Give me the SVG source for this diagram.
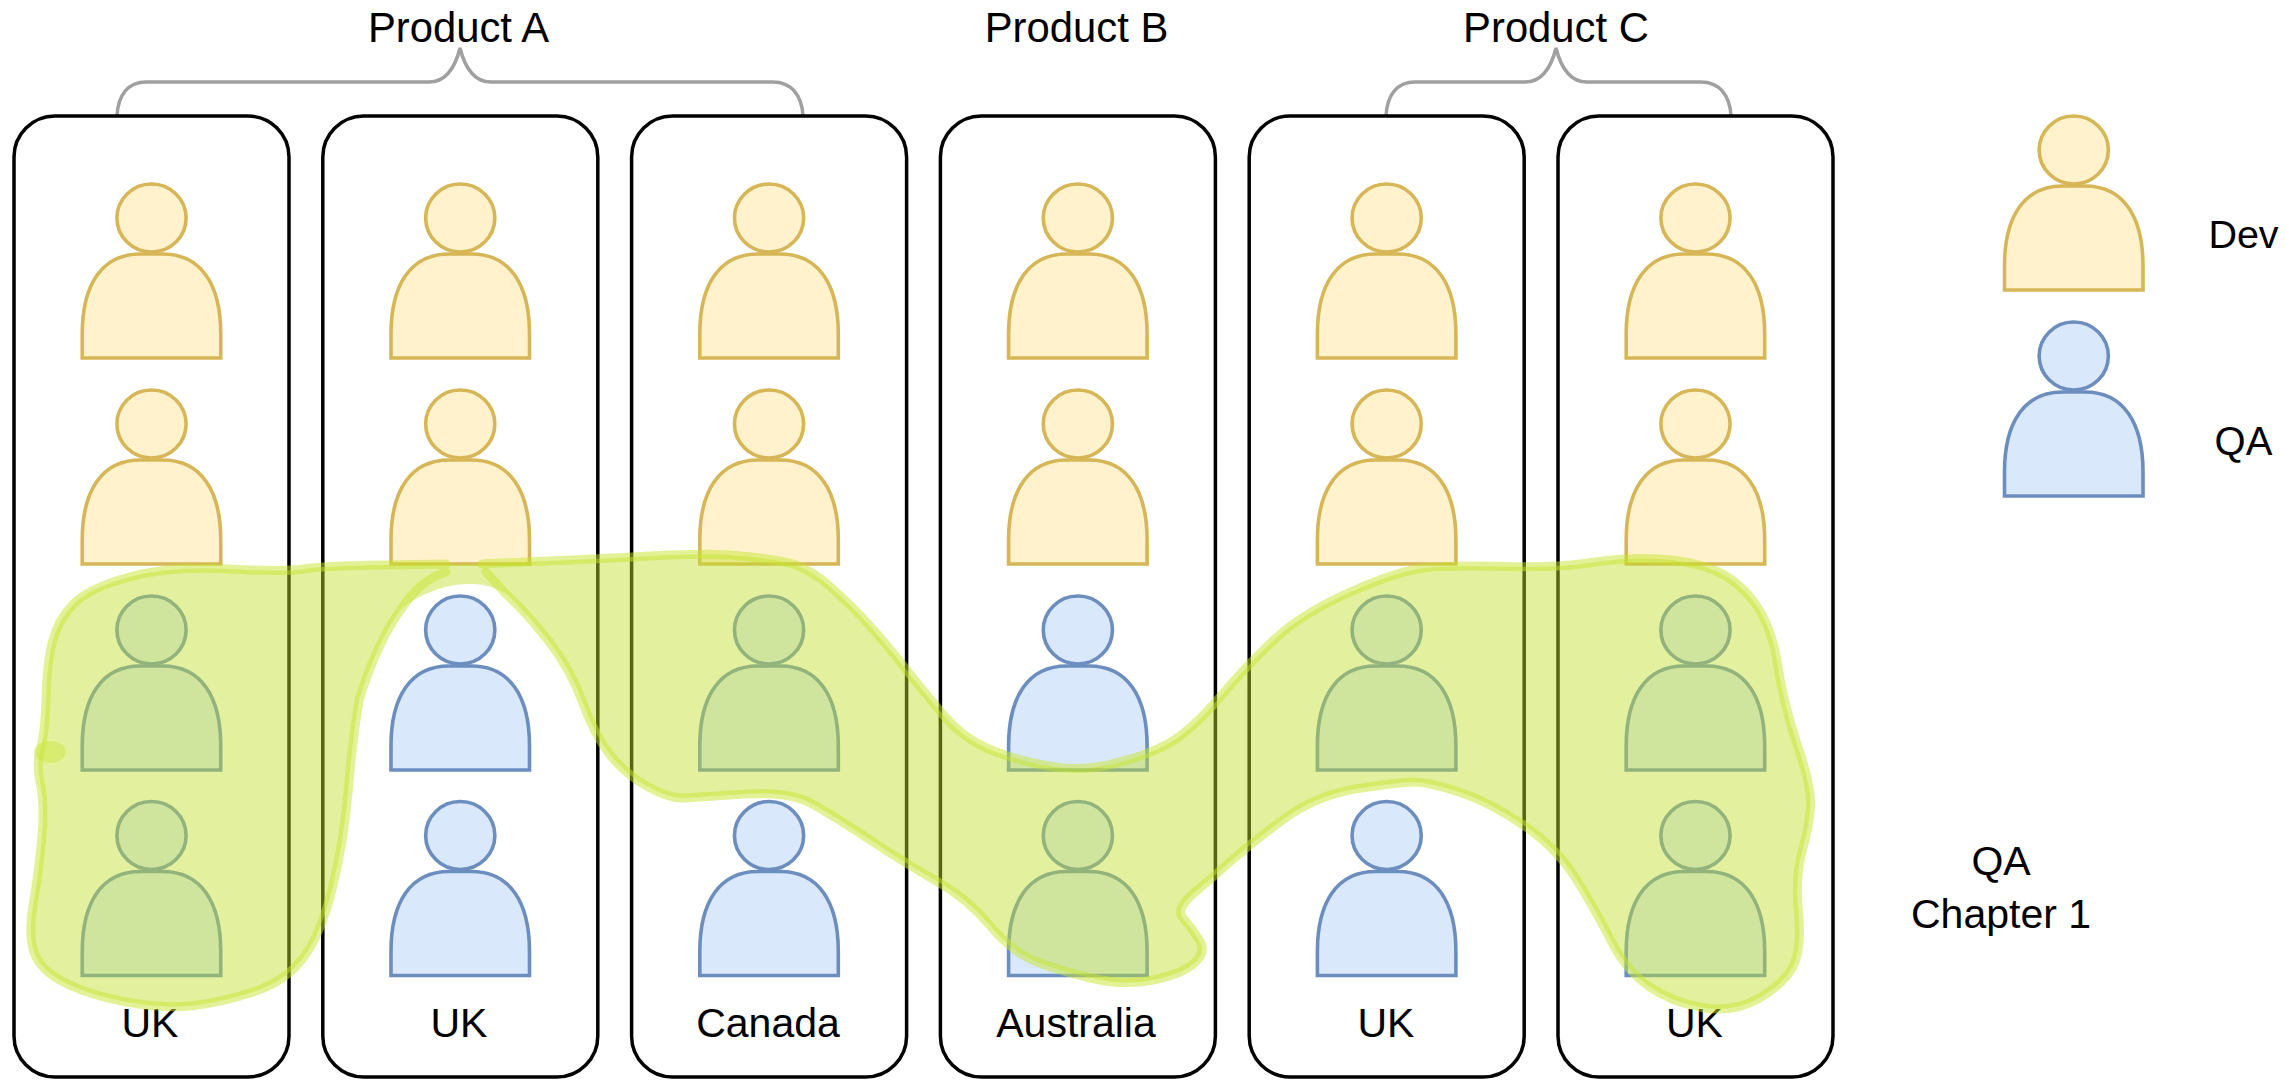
<svg xmlns="http://www.w3.org/2000/svg" width="2285" height="1081" viewBox="0 0 2285 1081">
<style>
.box{fill:none;stroke:#000;stroke-width:3.5}
.brace{fill:none;stroke:#a0a0a0;stroke-width:3.5}
.t{font-family:"Liberation Sans",Arial,sans-serif;font-size:41px;fill:#000;text-anchor:middle}
.p{font-size:41.8px}
.dev{fill:#fff2cc;stroke:#d6b656;stroke-width:3.6}
.qa{fill:#dae8fc;stroke:#6c8ebf;stroke-width:3.6}
.blobfill{fill:#c1e02a;fill-opacity:.45;stroke:none}
.blobline{fill:none;stroke:#c8e630;stroke-opacity:.5;stroke-width:9;stroke-linecap:round;stroke-linejoin:round}
.lump{fill:#c8e630;fill-opacity:.4}
</style>
<defs>
<g id="person-shape">
<path d="M0,174 L0,150 C0,100 20,70 58,70 L80.5,70 C118.5,70 138.5,100 138.5,150 L138.5,174 Z"/>
<ellipse cx="69.25" cy="34" rx="34.6" ry="34"/>
</g>
<path id="outlineA" d="M482,564 Q598,559 649,556 Q700,553 729,555 Q758,557 782.5,561.5 Q807,566 829.5,586 Q852,606 869.5,625.5 Q887,645 905,668 Q923,691 943,714.5 Q963,738 987.5,748.5 Q1012,759 1045.5,765.5 Q1079,772 1112.5,764 Q1146,756 1168.5,743.5 Q1191,731 1220,697 Q1249,663 1276,638 Q1303,613 1351.5,591.5 Q1400,570 1428,567.5 Q1456,565 1507,566.5 Q1558,568 1592,562.5 Q1626,557 1659.5,559 Q1693,561 1716,571 Q1739,581 1755.5,604 Q1772,627 1778,666.5 Q1784,706 1798,747 Q1812,788 1810.5,807.5 Q1809,827 1802,852 Q1795,877 1798.5,913 Q1802,949 1793,966.5 Q1784,984 1758.5,998.5 Q1733,1013 1702,1007.5 Q1671,1002 1648.5,986 Q1626,970 1611.5,941.5 Q1597,913 1577.5,881 Q1558,849 1524,825.5 Q1490,802 1459,792 Q1428,782 1414,782 Q1400,782 1358,788.5 Q1316,795 1282.5,820 Q1249,845 1231,861 Q1213,877 1194,893 Q1175,909 1183,918 Q1191,927 1199,939.5 Q1207,952 1194.5,963 Q1182,974 1153,980 Q1124,986 1090.5,978 Q1057,970 1034.5,961 Q1012,952 990,925.5 Q968,899 936.5,881 Q905,863 869.5,839.5 Q834,816 811.5,803.5 Q789,791 744.5,794 Q700,797 685,798 Q670,799 647.5,786.5 Q625,774 609.5,754 Q594,734 582.5,702 Q571,670 549,641.5 Q527,613 505.5,593.5 L486,572"/>
<path id="outlineB" d="M446,572 Q420,580 402,608 Q378,640 359.5,698.5 Q353,734 348.5,787.5 Q344,841 332.5,887.5 Q321,934 303.5,957.5 Q286,981 254.5,991.5 Q223,1002 194,1005.5 Q165,1009 127,1002 Q89,995 64.5,982.5 Q40,970 34,952 Q28,934 33,905.5 Q38,877 41.5,841.5 Q45,806 40.5,784.5 Q36,763 40.5,748.5 Q45,734 46,698.5 Q47,663 52.5,641.5 Q58,620 73.5,604 Q89,588 129.5,577 Q170,566 228,569 Q286,572 303.5,569 Q321,566 383.5,565 L446,564"/>
</defs>
<rect width="2285" height="1081" fill="#fff"/>

<g id="connectors">
<path class="brace" d="M117,116 C118,95 128,82 146,82 L429,82 C445,82 455,68 460,48 C465,68 475,82 491,82 L773,82 C791,82 802,95 803,116"/>
<path class="brace" d="M1386,116 C1387,95 1397,82 1415,82 L1525,82 C1541,82 1551,68 1556,48 C1561,68 1571,82 1587,82 L1701,82 C1719,82 1730,95 1731,116"/>
</g>

<g id="label-product-a"><text class="t p" x="458.5" y="42">Product A</text></g>
<g id="label-product-b"><text class="t p" x="1076.5" y="42">Product B</text></g>
<g id="label-product-c"><text class="t p" x="1556" y="42">Product C</text></g>

<g id="team-1">
<rect class="box" x="14" y="116" width="275" height="961" rx="41"/>
<g id="team-1-dev-1" class="dev" transform="translate(82.25,184)"><use href="#person-shape"/></g>
<g id="team-1-dev-2" class="dev" transform="translate(82.25,390)"><use href="#person-shape"/></g>
<g id="team-1-qa-1" class="qa" transform="translate(82.25,596)"><use href="#person-shape"/></g>
<g id="team-1-qa-2" class="qa" transform="translate(82.25,801.5)"><use href="#person-shape"/></g>
<text class="t" x="150" y="1037">UK</text>
</g>
<g id="team-2">
<rect class="box" x="322.8" y="116" width="275" height="961" rx="41"/>
<g id="team-2-dev-1" class="dev" transform="translate(391,184)"><use href="#person-shape"/></g>
<g id="team-2-dev-2" class="dev" transform="translate(391,390)"><use href="#person-shape"/></g>
<g id="team-2-qa-1" class="qa" transform="translate(391,596)"><use href="#person-shape"/></g>
<g id="team-2-qa-2" class="qa" transform="translate(391,801.5)"><use href="#person-shape"/></g>
<text class="t" x="459" y="1037">UK</text>
</g>
<g id="team-3">
<rect class="box" x="631.6" y="116" width="275" height="961" rx="41"/>
<g id="team-3-dev-1" class="dev" transform="translate(699.8,184)"><use href="#person-shape"/></g>
<g id="team-3-dev-2" class="dev" transform="translate(699.8,390)"><use href="#person-shape"/></g>
<g id="team-3-qa-1" class="qa" transform="translate(699.8,596)"><use href="#person-shape"/></g>
<g id="team-3-qa-2" class="qa" transform="translate(699.8,801.5)"><use href="#person-shape"/></g>
<text class="t" x="768" y="1037">Canada</text>
</g>
<g id="team-4">
<rect class="box" x="940.4" y="116" width="275" height="961" rx="41"/>
<g id="team-4-dev-1" class="dev" transform="translate(1008.6,184)"><use href="#person-shape"/></g>
<g id="team-4-dev-2" class="dev" transform="translate(1008.6,390)"><use href="#person-shape"/></g>
<g id="team-4-qa-1" class="qa" transform="translate(1008.6,596)"><use href="#person-shape"/></g>
<g id="team-4-qa-2" class="qa" transform="translate(1008.6,801.5)"><use href="#person-shape"/></g>
<text class="t" x="1076" y="1037">Australia</text>
</g>
<g id="team-5">
<rect class="box" x="1249.2" y="116" width="275" height="961" rx="41"/>
<g id="team-5-dev-1" class="dev" transform="translate(1317.4,184)"><use href="#person-shape"/></g>
<g id="team-5-dev-2" class="dev" transform="translate(1317.4,390)"><use href="#person-shape"/></g>
<g id="team-5-qa-1" class="qa" transform="translate(1317.4,596)"><use href="#person-shape"/></g>
<g id="team-5-qa-2" class="qa" transform="translate(1317.4,801.5)"><use href="#person-shape"/></g>
<text class="t" x="1386" y="1037">UK</text>
</g>
<g id="team-6">
<rect class="box" x="1558" y="116" width="275" height="961" rx="41"/>
<g id="team-6-dev-1" class="dev" transform="translate(1626.2,184)"><use href="#person-shape"/></g>
<g id="team-6-dev-2" class="dev" transform="translate(1626.2,390)"><use href="#person-shape"/></g>
<g id="team-6-qa-1" class="qa" transform="translate(1626.2,596)"><use href="#person-shape"/></g>
<g id="team-6-qa-2" class="qa" transform="translate(1626.2,801.5)"><use href="#person-shape"/></g>
<text class="t" x="1694.5" y="1037">UK</text>
</g>

<g id="legend-dev">
<g class="dev" transform="translate(2004.5,116)"><use href="#person-shape"/></g>
<text class="t" x="2243.5" y="248" style="font-size:39.5px">Dev</text>
</g>
<g id="legend-qa">
<g class="qa" transform="translate(2004.5,322)"><use href="#person-shape"/></g>
<text class="t" x="2243.5" y="455" style="font-size:40px">QA</text>
</g>

<g id="qa-chapter-highlight">
<path class="blobfill" d="M428,593 Q412,600 402,608 Q378,640 359.5,698.5 Q353,734 348.5,787.5 Q344,841 332.5,887.5 Q321,934 303.5,957.5 Q286,981 254.5,991.5 Q223,1002 194,1005.5 Q165,1009 127,1002 Q89,995 64.5,982.5 Q40,970 34,952 Q28,934 33,905.5 Q38,877 41.5,841.5 Q45,806 40.5,784.5 Q36,763 40.5,748.5 Q45,734 46,698.5 Q47,663 52.5,641.5 Q58,620 73.5,604 Q89,588 129.5,577 Q170,566 228,569 Q286,572 303.5,569 Q321,566 383.5,565 L446,564 L482,564 Q598,559 649,556 Q700,553 729,555 Q758,557 782.5,561.5 Q807,566 829.5,586 Q852,606 869.5,625.5 Q887,645 905,668 Q923,691 943,714.5 Q963,738 987.5,748.5 Q1012,759 1045.5,765.5 Q1079,772 1112.5,764 Q1146,756 1168.5,743.5 Q1191,731 1220,697 Q1249,663 1276,638 Q1303,613 1351.5,591.5 Q1400,570 1428,567.5 Q1456,565 1507,566.5 Q1558,568 1592,562.5 Q1626,557 1659.5,559 Q1693,561 1716,571 Q1739,581 1755.5,604 Q1772,627 1778,666.5 Q1784,706 1798,747 Q1812,788 1810.5,807.5 Q1809,827 1802,852 Q1795,877 1798.5,913 Q1802,949 1793,966.5 Q1784,984 1758.5,998.5 Q1733,1013 1702,1007.5 Q1671,1002 1648.5,986 Q1626,970 1611.5,941.5 Q1597,913 1577.5,881 Q1558,849 1524,825.5 Q1490,802 1459,792 Q1428,782 1414,782 Q1400,782 1358,788.5 Q1316,795 1282.5,820 Q1249,845 1231,861 Q1213,877 1194,893 Q1175,909 1183,918 Q1191,927 1199,939.5 Q1207,952 1194.5,963 Q1182,974 1153,980 Q1124,986 1090.5,978 Q1057,970 1034.5,961 Q1012,952 990,925.5 Q968,899 936.5,881 Q905,863 869.5,839.5 Q834,816 811.5,803.5 Q789,791 744.5,794 Q700,797 685,798 Q670,799 647.5,786.5 Q625,774 609.5,754 Q594,734 582.5,702 Q571,670 549,641.5 Q527,613 505.5,593.5 Q488,583 469,584 Q448,584 428,593 Z"/>
<use href="#outlineA" class="blobline"/>
<use href="#outlineB" class="blobline"/>
<ellipse class="lump" cx="50" cy="752" rx="16" ry="11"/>
</g>

<g id="label-qa-chapter">
<text class="t" x="2001" y="875">QA</text>
<text class="t" x="2001" y="928">Chapter 1</text>
</g>
</svg>
